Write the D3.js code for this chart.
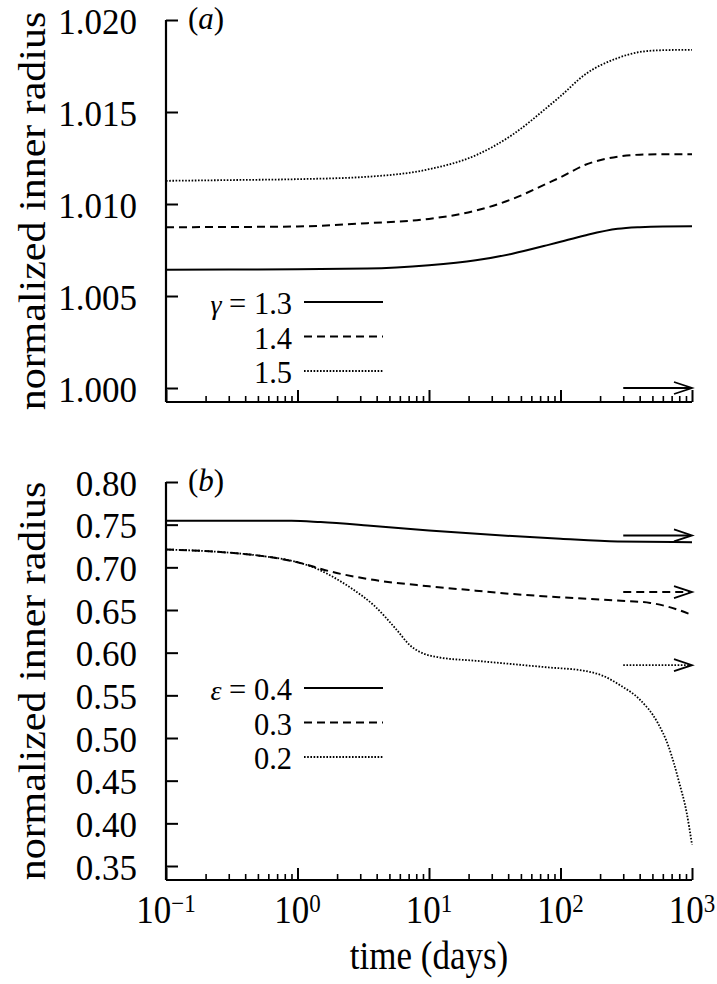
<!DOCTYPE html>
<html><head><meta charset="utf-8">
<script src="https://cdn.jsdelivr.net/npm/d3@7"></script>
<style>
body{margin:0;background:#fff;}
text{font-family:"Liberation Serif","Times New Roman",serif;fill:#000;}
</style></head>
<body><svg id="c" width="717" height="984"></svg>
<script>
// ---------- data ----------
const timeA = [0.1, 0.3, 1, 3.4, 10, 22.7, 43, 81, 100, 153, 272, 400, 600, 1000];
const gamma13 = [1.00643,1.00644,1.00646,1.00649,1.00667,1.00694,1.00730,1.00778,1.00795,1.00829,1.00865,1.00874,1.00878,1.00879];
const gamma14 = [1.00874,1.00875,1.00878,1.00896,1.00919,1.00964,1.01027,1.01115,1.01145,1.01212,1.01257,1.01268,1.01270,1.01270];
const gamma15 = [1.01126,1.01130,1.01135,1.01148,1.01189,1.01265,1.01376,1.01531,1.01586,1.01703,1.01793,1.01826,1.01836,1.01838];
const legendA = ["1.3","1.4","1.5"];
const arrowA = [1.000];

const timeB1 = [0.1, 0.3, 0.9, 1.5, 3.4, 10, 43, 100, 272, 1000];
const eps04  = [0.7546,0.7546,0.7546,0.7530,0.7491,0.7432,0.7366,0.7334,0.7303,0.7295];
const timeB2 = [0.1, 0.27, 0.5, 1, 1.78, 3.37, 10, 22.7, 43, 100, 272, 481, 751, 1000];
const eps03  = [0.7209,0.7178,0.7139,0.7060,0.6951,0.6865,0.6778,0.6727,0.6688,0.6649,0.6610,0.6583,0.6512,0.6441];
const timeB3 = [0.1, 0.27, 0.5, 1, 1.3, 1.78, 2.61, 3.83, 5.61, 7.23, 8.47, 12, 22.7, 43, 81, 153, 210, 289, 398, 547, 661, 800, 911, 1000];
const eps02  = [0.7209,0.7178,0.7139,0.7060,0.7005,0.6904,0.6747,0.6551,0.6277,0.6081,0.6011,0.5944,0.5905,0.5866,0.5827,0.5787,0.5729,0.5611,0.5455,0.5181,0.4907,0.4476,0.4124,0.375];
const legendB = ["0.4","0.3","0.2"];
const arrowB = [0.7374, 0.671, 0.5854];
const arrowT = [300, 1000];

const yTicksA = [1.000,1.005,1.010,1.015,1.020];
const yTicksB = [0.35,0.40,0.45,0.50,0.55,0.60,0.65,0.70,0.75,0.80];
const xExp = [-1,0,1,2,3];

// ---------- layout ----------
const SY = 1.12; // vertical glyph stretch seen in the reference
const svg = d3.select("#c");
const L = 166, R = 692;
const dashes = [null, "8,5", "1.6,1.6"];
const x = d3.scaleLog().domain([0.1,1000]).range([L,R]);

function stext(parent, px, py, size, anchor, sy){
  return parent.append("text").attr("transform",`translate(${px},${py}) scale(1,${sy})`)
    .attr("text-anchor",anchor).style("font-size",size+"px");
}

function panel(top, bottom, yDomain, yTicks, fmt, series, arrows, legSym, legVals, legY, tag){
  const y = d3.scaleLinear().domain(yDomain).range([bottom, top]);
  const g = svg.append("g");
  // y axis
  const ya = d3.axisLeft(y).tickValues(yTicks).tickFormat(fmt).tickSizeInner(-12).tickSizeOuter(0).tickPadding(29);
  const yg = g.append("g").attr("transform",`translate(${L},0)`).call(ya);
  yg.select(".domain").attr("d",`M${0},${top}V${bottom}`).attr("stroke","#000").attr("stroke-width",2.2);
  yg.selectAll(".tick line").attr("stroke","#000").attr("stroke-width",2);
  yg.selectAll(".tick text").style("font-size","35px").style("font-family","Liberation Serif")
    .attr("dy","0.38em");
  // x axis: minor ticks
  const minor = [];
  for(let e=-1;e<3;e++) for(let k=2;k<=9;k++) minor.push(k*Math.pow(10,e));
  const xm = d3.axisBottom(x).tickValues(minor).tickFormat("").tickSizeInner(-6).tickSizeOuter(0);
  const xmg = g.append("g").attr("transform",`translate(0,${bottom})`).call(xm);
  xmg.select(".domain").remove();
  xmg.selectAll(".tick line").attr("stroke","#000").attr("stroke-width",1.6);
  const xM = d3.axisBottom(x).tickValues(xExp.map(e=>Math.pow(10,e))).tickFormat("").tickSizeInner(-12).tickSizeOuter(0);
  const xMg = g.append("g").attr("transform",`translate(0,${bottom})`).call(xM);
  xMg.select(".domain").attr("d",`M${L},0H${R}`).attr("stroke","#000").attr("stroke-width",2.2);
  xMg.selectAll(".tick line").attr("stroke","#000").attr("stroke-width",2);
  // curves
  const line = d3.line().x(d=>x(d[0])).y(d=>y(d[1])).curve(d3.curveMonotoneX);
  series.forEach((s,i)=>{
    g.append("path").datum(s.t.map((t,j)=>[t,s.v[j]])).attr("d",line)
      .attr("fill","none").attr("stroke","#000").attr("stroke-width",i==2?1.8:2)
      .attr("stroke-dasharray",dashes[i]);
  });
  // arrows
  arrows.forEach(a=>{
    const x0=x(arrowT[0]), x1=x(arrowT[1]), yy=y(a.v);
    g.append("line").attr("x1",x0).attr("x2",x1-2).attr("y1",yy).attr("y2",yy)
      .attr("stroke","#000").attr("stroke-width",a.i==2?1.8:2).attr("stroke-dasharray",dashes[a.i]);
    g.append("path").attr("d",`M${x1-18},${yy-6}L${x1},${yy}L${x1-18},${yy+6}`)
      .attr("fill","none").attr("stroke","#000").attr("stroke-width",1.8);
  });
  // legend
  legVals.forEach((v,i)=>{
    const ly = legY + i*34.5;
    const t = g.append("text").attr("x",292).attr("y",ly+12).attr("text-anchor","end").style("font-size","30.5px");
    if(i===0){
      t.append("tspan").text(legSym).style("font-style","italic").style("font-size","28px");
      t.append("tspan").text(" = ");
    }
    t.append("tspan").text(v);
    g.append("line").attr("x1",304).attr("x2",383).attr("y1",ly).attr("y2",ly)
      .attr("stroke","#000").attr("stroke-width",i==2?1.8:2).attr("stroke-dasharray",dashes[i]);
  });
  // panel tag
  const tg = stext(g, 188, top+9, 31, "start", 1);
  tg.append("tspan").text("(");
  tg.append("tspan").text(tag).style("font-style","italic");
  tg.append("tspan").text(")");
  // y title
  g.append("text").attr("transform",`translate(45,${(top+bottom)/2}) rotate(-90) scale(${SY},1)`)
    .attr("text-anchor","middle").style("font-size","37.5px").text("normalized inner radius");
  return y;
}

panel(20, 402, [0.99924,1.020], yTicksA, d3.format(".3f"),
  [{t:timeA,v:gamma13},{t:timeA,v:gamma14},{t:timeA,v:gamma15}],
  [{v:arrowA[0],i:0}], "γ", legendA, 302, "a");

panel(482, 880, [0.3336,0.80], yTicksB, d3.format(".2f"),
  [{t:timeB1,v:eps04},{t:timeB2,v:eps03},{t:timeB3,v:eps02}],
  arrowB.map((v,i)=>({v:v,i:i})), "ε", legendB, 688, "b");

// x tick labels with superscripts
xExp.forEach(e=>{
  const t = stext(svg, x(Math.pow(10,e)), 923, 35, "middle", SY);
  t.append("tspan").text("10");
  t.append("tspan").attr("dy",-10).style("font-size","23px").text(e<0?"\u2212"+(-e):String(e));
});
stext(svg, (L+R)/2, 969, 35, "middle", SY).text("time (days)");
</script></body></html>
